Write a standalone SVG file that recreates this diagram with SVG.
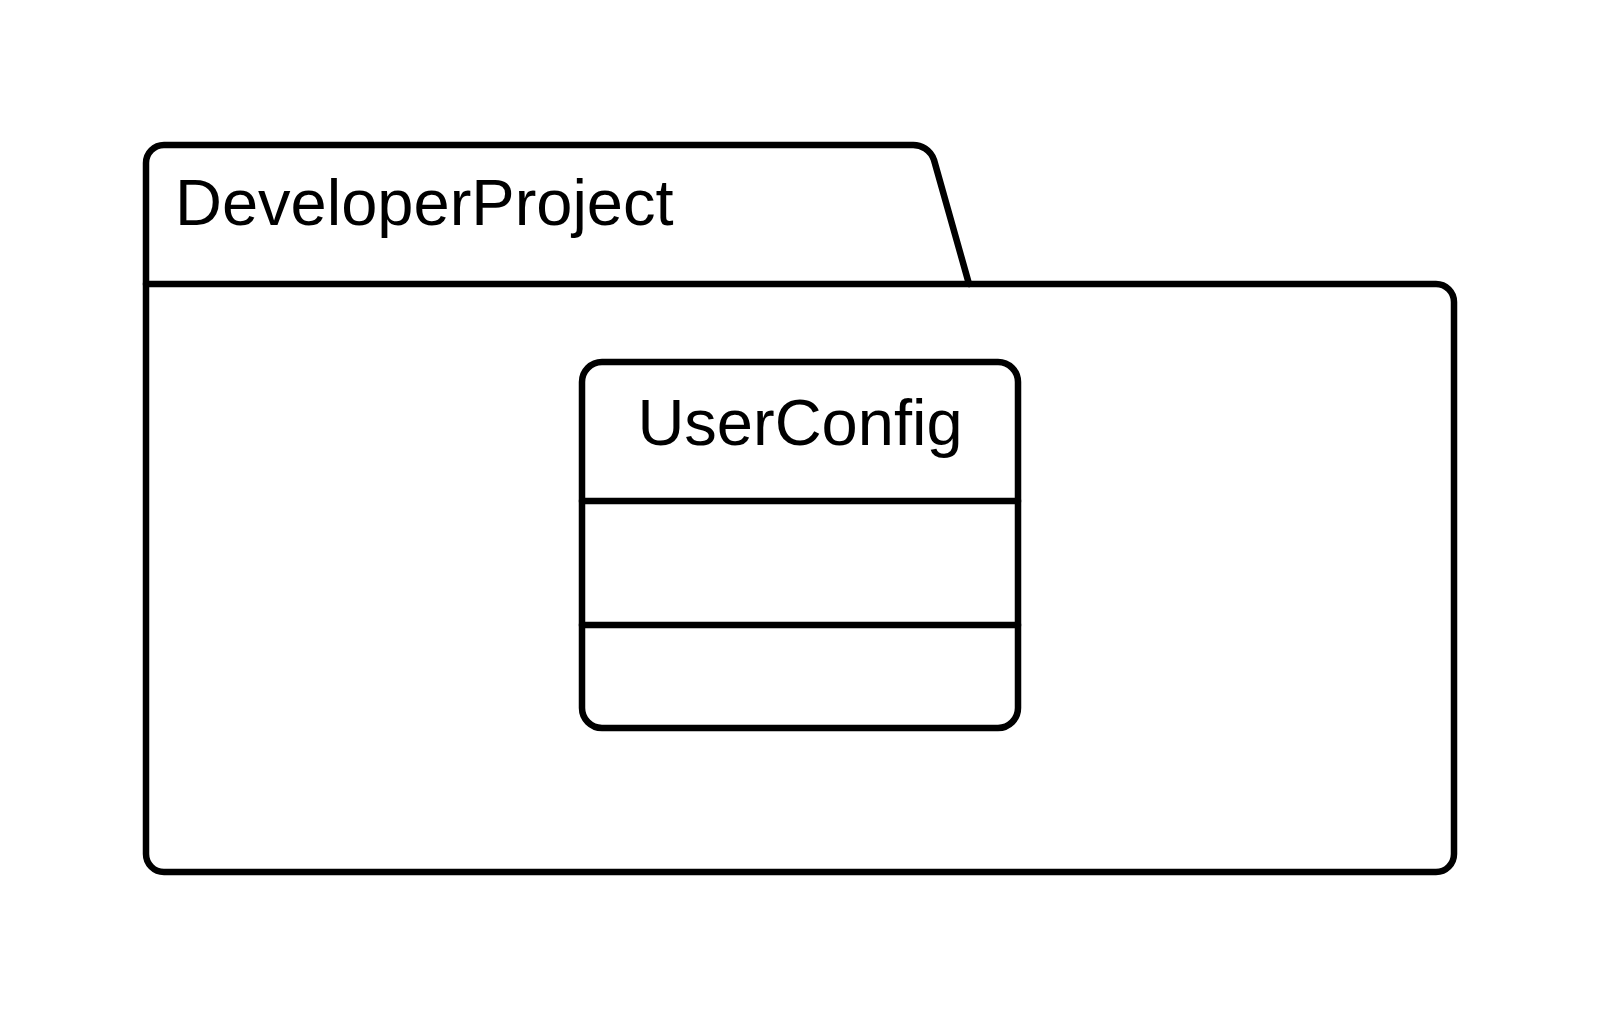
<svg xmlns="http://www.w3.org/2000/svg" width="1600" height="1018" viewBox="0 0 1600 1018">
<style>
.s{fill:none;stroke:#000;stroke-width:6.5;stroke-linejoin:round;stroke-linecap:round}
.t{font-family:"Liberation Sans",Arial,sans-serif;font-size:65px;fill:#000}
</style>
<rect width="1600" height="1018" fill="#fff"/>
<g id="package-DeveloperProject">
<path class="s" d="M146,284 V163 A18,18 0 0 1 164,145 H911 A22,22 0 0 1 934,160 L969,284"/>
<path class="s" d="M146,284 H1436 A18,18 0 0 1 1454,302 V854 A18,18 0 0 1 1436,872 H164 A18,18 0 0 1 146,854 Z"/>
<text class="t" x="175" y="225">DeveloperProject</text>
</g>
<g id="class-UserConfig">
<rect class="s" x="582" y="362" width="436" height="366" rx="20" ry="20"/>
<line class="s" x1="582" y1="501" x2="1018" y2="501" stroke-linecap="butt"/>
<line class="s" x1="582" y1="625" x2="1018" y2="625" stroke-linecap="butt"/>
<text class="t" x="800" y="445" text-anchor="middle">UserConfig</text>
</g>
<g id="connectors"></g>
</svg>
